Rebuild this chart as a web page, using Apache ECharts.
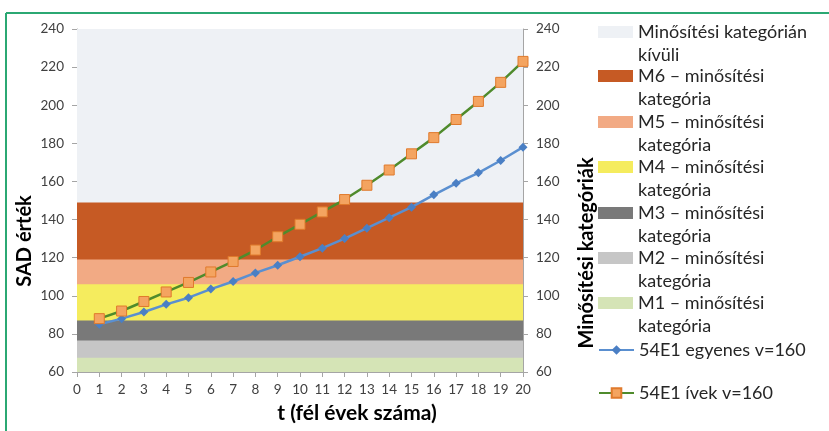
<!DOCTYPE html>
<html>
<head>
<meta charset="utf-8">
<script src="https://cdn.jsdelivr.net/npm/echarts/dist/echarts.min.js"></script>
<style>
html,body{margin:0;padding:0;background:#fff;}
#chart{width:829px;height:431px;}
</style>
</head>
<body>
<div id="chart"></div>
<script>
// ---- data ----
const tValues = [1,2,3,4,5,6,7,8,9,10,11,12,13,14,15,16,17,18,19,20];
const egyenes = [85,88,91.5,95.5,99,103.5,107.5,112,116,120.5,125,130,135.5,141,146.5,153,159,164.5,171,178];
const ivek = [88,92,97,102,107,112.5,118,124,131,137.5,144,150.5,158,166,174.5,183,192.5,202,212,223];
// category bands, top to bottom, with their upper limits
const bandNames = ['Minősítési kategórián kívüli','M6 – minősítési kategória','M5 – minősítési kategória','M4 – minősítési kategória','M3 – minősítési kategória','M2 – minősítési kategória','M1 – minősítési kategória'];
const bandTops = [240,149,119,106,87,76.5,67.5];
const bandColors = ['#eef1f5','#c65a24','#f2aa84','#f5ec5e','#797979','#c6c6c6','#d5e4b6'];
const lineNames = ['54E1 egyenes v=160','54E1 ívek v=160'];
const yTicks = {min:60, max:240, interval:20};
const xTicks = {min:0, max:20, interval:1};

const FONT = 'Lato';
const chart = echarts.init(document.getElementById('chart'));

const series = [];
// each band fills from its upper limit down to the axis; lower bands drawn on top
bandNames.forEach((n,i)=>{
  series.push({
    name:n, type:'line', symbol:'none', silent:true,
    data:[[xTicks.min,bandTops[i]],[xTicks.max,bandTops[i]]],
    lineStyle:{width:0}, itemStyle:{color:bandColors[i]},
    areaStyle:{color:bandColors[i], opacity:1, origin:'start'}, z:1
  });
});
series.push({
  name:lineNames[0], type:'line', data:tValues.map((t,i)=>[t,egyenes[i]]),
  symbol:'diamond', symbolSize:9,
  lineStyle:{color:'#5a8fd0', width:2.5},
  itemStyle:{color:'#4a7fc4'}, z:3
});
series.push({
  name:lineNames[1], type:'line', data:tValues.map((t,i)=>[t,ivek[i]]),
  symbol:'rect', symbolSize:10,
  lineStyle:{color:'#4f8b2c', width:2.5},
  itemStyle:{color:'#f4a460', borderColor:'#e07a2c', borderWidth:1}, z:4
});

const legendOrder = bandNames.concat(lineNames);
const iconCenters = [32, 76, 122, 167, 213, 258, 303, 350, 393];
const legends = legendOrder.map((n,i)=>{
  const twoLine = i < bandNames.length;
  return {
    orient:'vertical', left:598, top: iconCenters[i] - (twoLine?34.5:11.5),
    padding:0, itemWidth:35, itemHeight:12, itemGap:0,
    data:[twoLine?{name:n, icon:'rect'}:{name:n}],
    // an empty leading line keeps the icon level with the first text line
    formatter: name => { if(!twoLine) return name; const k=name.lastIndexOf(' '); return '\n'+name.slice(0,k)+'\n'+name.slice(k+1); },
    textStyle:{fontFamily:FONT, fontSize:18, lineHeight:23, color:'#262626'}
  };
});

const axisLabel = {fontFamily:FONT, fontSize:13.5, color:'#404040'};
const axisCommon = {
  axisLine:{show:true, lineStyle:{color:'#a5a5a5'}},
  axisTick:{show:true, length:5, lineStyle:{color:'#a5a5a5'}},
  splitLine:{show:false}
};
const option = {
  animation:false,
  grid:{left:77, right:306, top:29, bottom:59},
  xAxis:Object.assign({type:'value', min:xTicks.min, max:xTicks.max, interval:xTicks.interval,
    axisLabel:Object.assign({margin:11}, axisLabel)}, axisCommon),
  yAxis:[
    Object.assign({type:'value', min:yTicks.min, max:yTicks.max, interval:yTicks.interval, position:'left',
     axisLabel:Object.assign({margin:13}, axisLabel)}, axisCommon),
    Object.assign({type:'value', min:yTicks.min, max:yTicks.max, interval:yTicks.interval, position:'right',
     axisLabel:Object.assign({margin:13}, axisLabel)}, axisCommon)
  ],
  legend:legends,
  series:series,
  graphic:[
    {type:'line', shape:{x1:6, y1:13, x2:829, y2:13}, style:{stroke:'#2ba873', lineWidth:2}, silent:true},
    {type:'line', shape:{x1:6, y1:13, x2:6, y2:431}, style:{stroke:'#2ba873', lineWidth:2}, silent:true},
    {type:'text', x:25, y:241, rotation:Math.PI/2,
     style:{text:'SAD érték', font:'bold 20px '+FONT, fill:'#000', align:'center', verticalAlign:'middle'}},
    {type:'text', x:587, y:253, rotation:Math.PI/2,
     style:{text:'Minősítési kategóriák', font:'bold 20px '+FONT, fill:'#000', align:'center', verticalAlign:'middle'}},
    {type:'text', x:357, y:413,
     style:{text:'t (fél évek száma)', font:'bold 21px '+FONT, fill:'#000', align:'center', verticalAlign:'middle'}}
  ]
};
chart.setOption(option);
</script>
</body>
</html>
